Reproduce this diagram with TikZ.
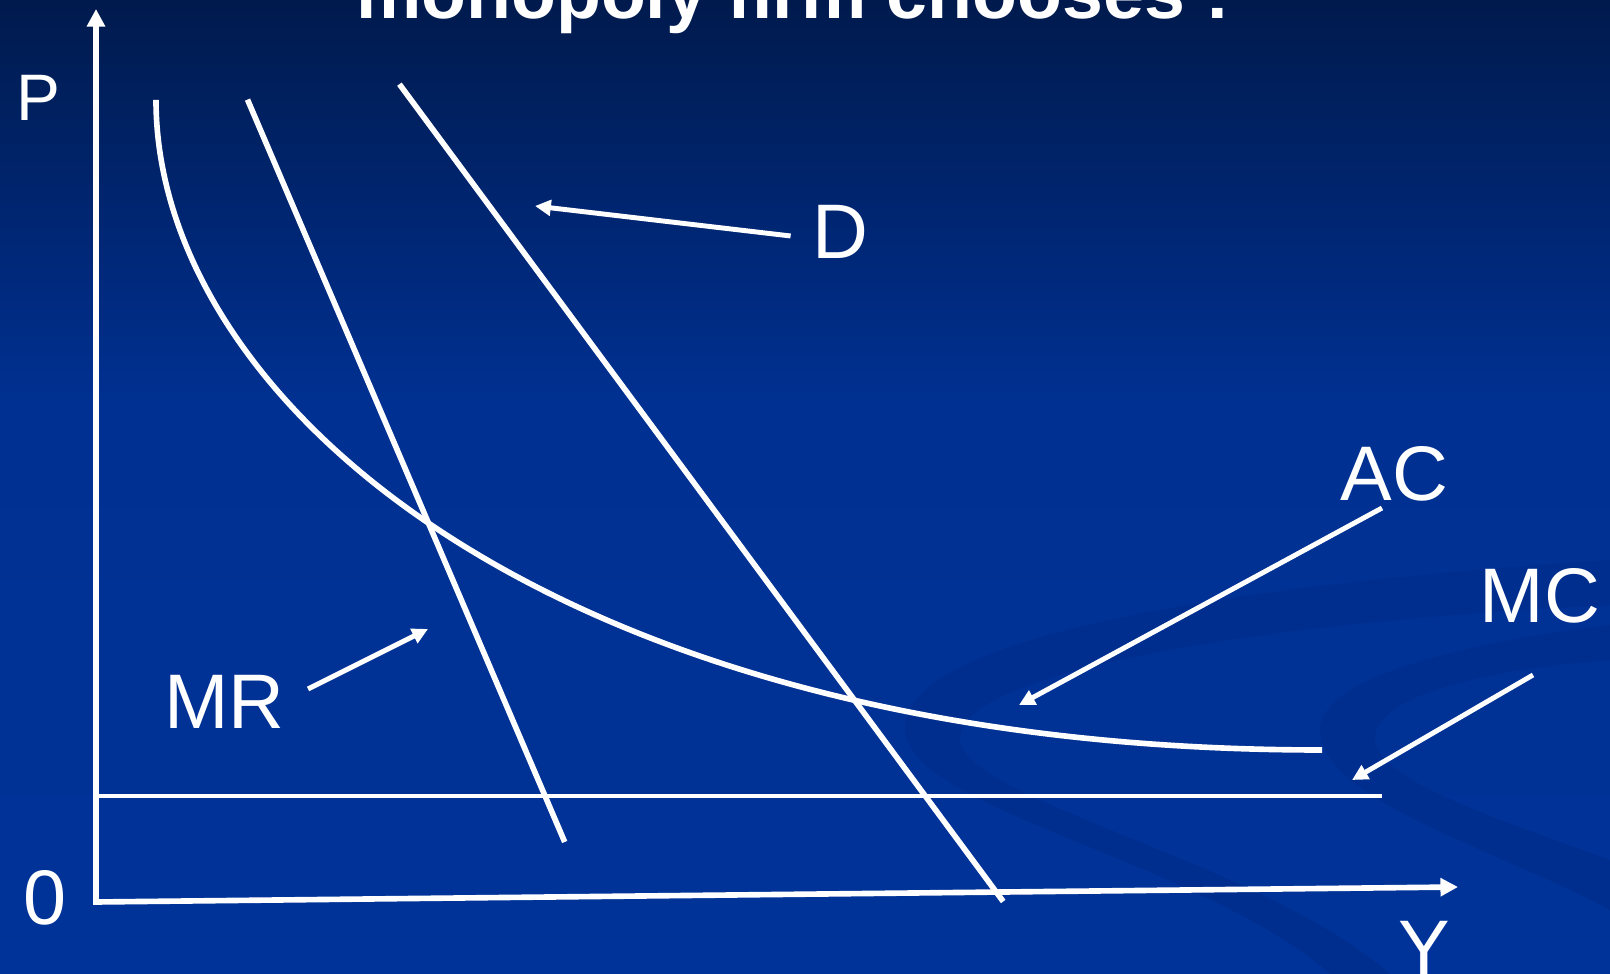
\documentclass[tikz,border=0pt]{standalone}
\usepackage{fontspec}
\setmainfont{Liberation Sans}
\usetikzlibrary{arrows.meta}
\definecolor{slidetop}{RGB}{0,26,77}
\definecolor{slidemid}{RGB}{0,48,145}
\definecolor{slidebot}{RGB}{0,51,153}
\definecolor{swirl}{RGB}{0,46,142}

\begin{document}
\begin{tikzpicture}[x=0.01cm,y=-0.01cm,
  curve/.style={white,line width=1.6pt},
  axis/.style={white,line width=1.6pt,{Triangle[length=5pt,width=5pt]}-{Triangle[length=5pt,width=5pt]}},
  pointer/.style={white,line width=1.4pt,-{Triangle[length=4.5pt,width=4.4pt]}},
  lbl/.style={text=white,inner sep=0pt,font=\fontsize{22}{26}\selectfont}]
% slide background
\useasboundingbox (0,0) rectangle (1610,974);
\fill[top color=slidetop,bottom color=slidemid] (0,0) rectangle (1610,400);
\fill[top color=slidemid,bottom color=slidebot] (0,400) rectangle (1610,974);
\fill[swirl] (1610,560) .. controls (1150,590) and (900,650) .. (905,730)
  .. controls (910,810) and (1200,860) .. (1330,974) -- (1390,974)
  .. controls (1260,860) and (960,800) .. (960,738)
  .. controls (960,680) and (1200,625) .. (1610,605) -- cycle;
\fill[swirl] (1610,625) .. controls (1450,645) and (1320,680) .. (1320,730)
  .. controls (1320,800) and (1500,850) .. (1610,910) -- (1610,860)
  .. controls (1500,820) and (1375,780) .. (1375,738)
  .. controls (1375,700) and (1470,670) .. (1610,660) -- cycle;
% title, cut by the top edge
\node[lbl,font=\fontsize{20.9}{25}\selectfont\bfseries,anchor=base] (title) at (793,19) {monopoly firm chooses :};
% axes
\coordinate (origin) at (96,902);
\coordinate (ptop) at (96,9);
\coordinate (yend) at (1458,887);
\draw[axis] (ptop) -- (origin) -- (yend);
\node[lbl,font=\fontsize{18.7}{22}\selectfont] (plabel) at (38.5,97.5) {P};
\node[lbl] (zero) at (44.7,897.4) {0};
\node[lbl] (ylabel) at (1424.7,947.6) {Y};
% curves
\coordinate (actop) at (156,100);
\coordinate (acend) at (1322,750);
\draw[curve] (actop) .. controls (156,400) and (552,750) .. (acend);
\coordinate (mrtop) at (247.5,99.6);
\coordinate (mrbot) at (564.7,842);
\draw[curve] (mrtop) -- (mrbot);
\coordinate (dtop) at (399.4,84.2);
\coordinate (dbot) at (1003.2,901.5);
\draw[curve] (dtop) -- (dbot);
\coordinate (mcleft) at (96,796);
\coordinate (mcright) at (1382,796);
\draw[white,line width=1.3pt] (mcleft) -- (mcright);
% labels and pointers
\node[lbl] (dlabel) at (840.5,232) {D};
\coordinate (dtail) at (790.6,236);
\coordinate (dtip) at (535,206);
\draw[pointer] (dtail) -- (dtip);
\node[lbl] (mrlabel) at (224.4,702.3) {MR};
\coordinate (mrtail) at (308,689);
\coordinate (mrtip) at (428,629);
\draw[pointer] (mrtail) -- (mrtip);
\node[lbl] (aclabel) at (1394.5,474) {AC};
\coordinate (actail) at (1382,508);
\coordinate (actip) at (1019,705);
\draw[pointer] (actail) -- (actip);
\node[lbl] (mclabel) at (1540,596) {MC};
\coordinate (mctail) at (1533,675);
\coordinate (mctip) at (1352,780);
\draw[pointer] (mctail) -- (mctip);
\end{tikzpicture}
\end{document}
